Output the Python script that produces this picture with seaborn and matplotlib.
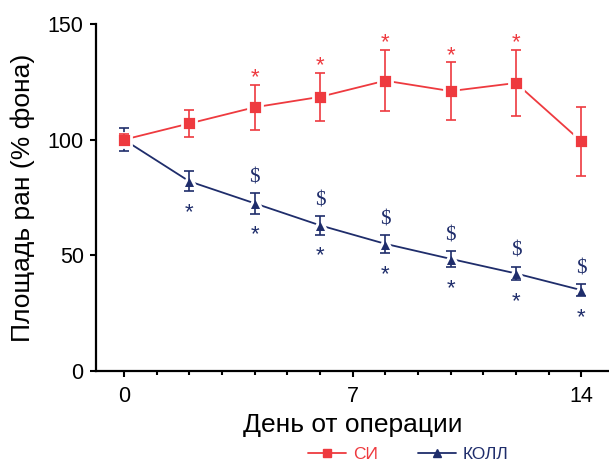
import matplotlib
matplotlib.use("Agg")
import matplotlib.pyplot as plt
from matplotlib.ticker import MultipleLocator
from matplotlib.lines import Line2D
import seaborn as sns
import numpy as np
import pandas as pd

# data
days = [0, 2, 4, 6, 8, 10, 12, 14]
si_mean = [100, 107, 114, 118.5, 125.5, 121, 124.5, 99.3]
si_err = [2.5, 5.8, 9.6, 10.5, 13.2, 12.4, 14.2, 15.0]
koll_mean = [100, 82, 72.5, 63, 55, 48.5, 42.2, 35]
koll_err = [5.0, 4.3, 4.5, 4.0, 4.0, 3.5, 3.0, 2.5]
si_star = [False, False, True, True, True, True, True, False]
koll_dollar = [False, False, True, True, True, True, True, True]
koll_star = [False, True, True, True, True, True, True, True]
groups = ['СИ', 'КОЛЛ']

red = '#ee3a3f'
blue = '#1f2d6b'

sns.set_style('ticks', {'axes.edgecolor': 'black', 'text.color': 'black',
                        'xtick.color': 'black', 'ytick.color': 'black',
                        'axes.labelcolor': 'black'})
plt.rcParams['font.family'] = ['Liberation Sans', 'DejaVu Sans']

df = pd.DataFrame({
    'day': days * 2,
    'value': si_mean + koll_mean,
    'group': [groups[0]] * len(days) + [groups[1]] * len(days),
})

fig = plt.figure(figsize=(6.09, 4.61), dpi=100)
ax = fig.add_axes([0.158, 0.195, 0.842, 0.753])

# blue first so red sits on top at day 0
sns.lineplot(data=df[df.group == groups[1]], x='day', y='value', ax=ax, color=blue,
             marker='^', markersize=10.5, markeredgecolor='white', markeredgewidth=2.2,
             linewidth=1.3, legend=False, zorder=3)
ax.errorbar(days, koll_mean, yerr=koll_err, fmt='none', ecolor=blue,
            elinewidth=1.2, capsize=3.5, capthick=1.2, zorder=4)
sns.lineplot(data=df[df.group == groups[0]], x='day', y='value', ax=ax, color=red,
             marker='s', markersize=10.5, markeredgecolor='white', markeredgewidth=2.0,
             linewidth=1.3, legend=False, zorder=5)
ax.errorbar(days, si_mean, yerr=si_err, fmt='none', ecolor=red,
            elinewidth=1.2, capsize=3.5, capthick=1.2, zorder=6)

# significance marks
for d, m, e, s in zip(days, si_mean, si_err, si_star):
    if s:
        ax.annotate('*', (d, m + e), xytext=(0, -2.5), textcoords='offset points',
                    ha='center', va='bottom', color=red, fontsize=16)
for d, m, e, s in zip(days, koll_mean, koll_err, koll_dollar):
    if s:
        ax.annotate('$', (d, m + e), xytext=(0, 4), textcoords='offset points',
                    ha='center', va='bottom', color=blue, fontsize=15,
                    family=['Liberation Serif', 'DejaVu Serif'])
for d, m, e, s in zip(days, koll_mean, koll_err, koll_star):
    if s:
        ax.annotate('*', (d, m - e), xytext=(0, -23), textcoords='offset points',
                    ha='center', va='bottom', color=blue, fontsize=16)

ax.set_xlim(-0.85, 14.85)
ax.set_ylim(0, 150)
ax.set_xticks([0, 7, 14])
ax.xaxis.set_minor_locator(MultipleLocator(1))
ax.set_yticks([0, 50, 100, 150])
ax.tick_params(axis='both', which='major', labelsize=15.5, length=4, width=1.5, direction='out')
ax.tick_params(axis='x', which='major', pad=7)
ax.tick_params(axis='y', which='major', pad=5)
ax.tick_params(axis='x', which='minor', length=3, width=1.5, direction='out')
for sp in ['left', 'bottom']:
    ax.spines[sp].set_linewidth(1.6)
sns.despine(ax=ax)

ax.set_xlabel('День от операции', fontsize=19, labelpad=4)
ax.set_ylabel('Площадь ран (% фона)', fontsize=19, labelpad=9)

handles = [
    Line2D([], [], color=red, marker='s', markersize=6, linewidth=1.3),
    Line2D([], [], color=blue, marker='^', markersize=6, linewidth=1.3),
]
leg = fig.legend(handles, groups, loc='center', bbox_to_anchor=(0.67, 0.014), ncol=2,
                 frameon=False, fontsize=12.5, handlelength=2.2, handletextpad=0.4,
                 columnspacing=2.3, borderpad=0)
for txt, c in zip(leg.get_texts(), [red, blue]):
    txt.set_color(c)

fig.savefig('out.png', dpi=100)
